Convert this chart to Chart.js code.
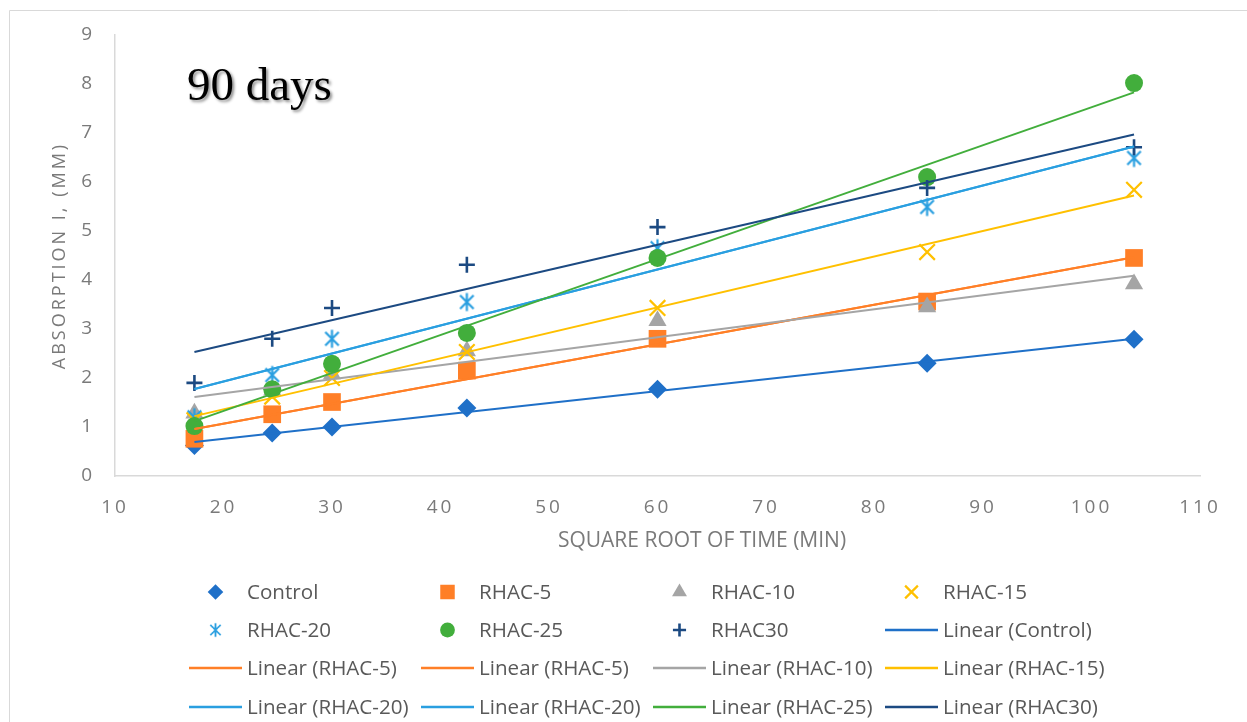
<!DOCTYPE html>
<html lang="en">
<head>
  <meta charset="UTF-8" />
  <title>90 days – absorption</title>
  <script src="https://cdn.jsdelivr.net/npm/chart.js@4"></script>
  <style>
    html, body { margin: 0; padding: 0; background: #fff; }
    #wrap { width: 1247px; height: 722px; position: relative; }
  </style>
</head>
<body>
  <div id="wrap"><canvas id="chart"></canvas></div>

  <script>
    // sqrt of time (min) – same x for every mix
    const xValues = [17.32, 24.49, 30, 42.43, 60, 84.85, 103.92];

    const control = [0.62, 0.88, 1.00, 1.39, 1.77, 2.30, 2.79];
    const rhac5   = [0.76, 1.26, 1.51, 2.15, 2.80, 3.56, 4.45];
    const rhac10  = [1.28, 1.75, 2.08, 2.55, 3.17, 3.45, 3.92];
    const rhac15  = [1.14, 1.62, 2.00, 2.53, 3.43, 4.57, 5.84];
    const rhac20  = [1.20, 2.06, 2.80, 3.55, 4.65, 5.49, 6.49];
    const rhac25  = [1.02, 1.77, 2.29, 2.92, 4.45, 6.10, 8.02];
    const rhac30  = [1.90, 2.80, 3.43, 4.31, 5.08, 5.88, 6.71];

    const seriesNames = ['Control', 'RHAC-5', 'RHAC-10', 'RHAC-15', 'RHAC-20', 'RHAC-25', 'RHAC30'];
    const seriesData  = [control, rhac5, rhac10, rhac15, rhac20, rhac25, rhac30];
    // trendlines as listed in the original legend (two are doubled)
    const trendOf = [0, 1, 1, 2, 3, 4, 4, 5, 6];

    const xTicks = [10, 20, 30, 40, 50, 60, 70, 80, 90, 100, 110];
    const yTicks = [0, 1, 2, 3, 4, 5, 6, 7, 8, 9];

    const colors = ['#1F70C8', '#FF7F27', '#A5A5A5', '#FFC000', '#2A9FE0', '#42AE3C', '#1C4A82'];

    // asterisk marker like the excel one (x + vertical bar)
    function asterisk(size, color){
      const c = document.createElement('canvas');
      c.width = size; c.height = size;
      const g = c.getContext('2d');
      const m = size/2, r = size/2 - 1.5, d = r*0.75;
      g.strokeStyle = color; g.lineWidth = 2.2;
      g.beginPath();
      g.moveTo(m, m-r); g.lineTo(m, m+r);
      g.moveTo(m-d, m-d); g.lineTo(m+d, m+d);
      g.moveTo(m+d, m-d); g.lineTo(m-d, m+d);
      g.stroke();
      return c;
    }

    const markers = [
      {style:'rectRot',  r:9.5,  w:0},
      {style:'rect',     r:12.5, w:0},
      {style:'triangle', r:10.5, w:0},
      {style:'crossRot', r:11,   w:2.2},
      {style:asterisk(21, colors[4]), r:10, w:2},
      {style:'circle',   r:9,    w:0},
      {style:'cross',    r:8,    w:2.6}
    ];

    function fit(ys){
      const n = xValues.length;
      const mx = xValues.reduce((a,b)=>a+b,0)/n;
      const my = ys.reduce((a,b)=>a+b,0)/n;
      let sxy = 0, sxx = 0;
      xValues.forEach((x,i)=>{ sxy += (x-mx)*(ys[i]-my); sxx += (x-mx)*(x-mx); });
      const b = sxy/sxx, a = my - b*mx;
      const x0 = xValues[0], x1 = xValues[n-1];
      return [{x:x0, y:a+b*x0}, {x:x1, y:a+b*x1}];
    }

    const scatterSets = seriesData.map((ys,i)=>({
      label: seriesNames[i],
      data: xValues.map((x,j)=>({x, y: ys[j]})),
      pointStyle: markers[i].style,
      pointRadius: markers[i].r,
      pointHoverRadius: markers[i].r,
      pointBackgroundColor: colors[i],
      pointBorderColor: colors[i],
      pointBorderWidth: markers[i].w,
      showLine: false,
      order: 100 - i
    }));

    const trendSets = trendOf.map((s,k)=>({
      label: 'Linear (' + seriesNames[s] + ')',
      type: 'line',
      data: fit(seriesData[s]),
      borderColor: colors[s],
      borderWidth: 2,
      pointRadius: 0,
      fill: false,
      order: 20 - k
    }));

    const tickColor = '#7a7a7a';
    const textColor = '#595959';

    // frame, "90 days", x title and the 4-column legend
    const extras = {
      id: 'extras',
      beforeDraw(chart){
        const ctx = chart.ctx;
        ctx.save();
        ctx.strokeStyle = '#d9d9d9'; ctx.lineWidth = 1;
        ctx.beginPath();
        ctx.moveTo(9.5, 740); ctx.lineTo(9.5, 10.5); ctx.lineTo(1260, 10.5);
        ctx.stroke();
        ctx.restore();
        ctx.letterSpacing = '3px';   // excel spreads the axis numbers
      },
      afterDraw(chart){
        const ctx = chart.ctx;
        ctx.letterSpacing = '0px';
        ctx.save();
        // panel label
        ctx.font = '47px "Liberation Serif"';
        ctx.fillStyle = '#000';
        ctx.textBaseline = 'alphabetic';
        ctx.shadowColor = 'rgba(0,0,0,0.45)';
        ctx.shadowOffsetX = 2; ctx.shadowOffsetY = 2; ctx.shadowBlur = 3;
        ctx.fillText('90 days', 187, 100);
        ctx.restore();

        ctx.save();
        ctx.font = '21px "Open Sans"';
        ctx.fillStyle = tickColor;
        ctx.textAlign = 'center'; ctx.textBaseline = 'middle';
        ctx.fillText('SQUARE ROOT OF TIME (MIN)', 702, 541);

        // legend
        const colX = [189, 421, 653, 885], rowY = [592, 630, 668, 707];
        const items = chart.data.datasets;
        ctx.font = '20.6px "Open Sans"';
        ctx.textAlign = 'left';
        items.forEach((ds,k)=>{
          const cx = colX[k % 4], cy = rowY[Math.floor(k/4)];
          if (ds.type === 'line'){
            ctx.strokeStyle = ds.borderColor; ctx.lineWidth = 2.5;
            ctx.beginPath(); ctx.moveTo(cx, cy); ctx.lineTo(cx+53, cy); ctx.stroke();
          } else {
            const i = seriesNames.indexOf(ds.label), m = markers[i];
            ctx.fillStyle = colors[i]; ctx.strokeStyle = colors[i];
            if (typeof m.style !== 'string'){
              ctx.drawImage(m.style, cx+26.5-8, cy-8, 16, 16);
            } else {
              ctx.lineWidth = m.w;
              Chart.helpers.drawPoint(ctx, {pointStyle:m.style, radius:m.r*0.82, rotation:0, borderWidth:m.w}, cx+26.5, cy);
            }
          }
          ctx.fillStyle = textColor;
          ctx.fillText(ds.label, cx+58, cy+1);
        });
        ctx.restore();
      }
    };

    new Chart(document.getElementById('chart'), {
      type: 'scatter',
      data: { datasets: [...scatterSets, ...trendSets] },
      options: {
        responsive: true,
        maintainAspectRatio: false,
        animation: false,
        layout: { padding: { left: 0, top: 35, right: 47, bottom: 166 } },
        plugins: { legend: { display: false }, tooltip: { enabled: false } },
        scales: {
          x: {
            type: 'linear', min: xTicks[0], max: xTicks[xTicks.length-1],
            afterFit: s => { s.height = 80; },
            afterBuildTicks: s => { s.ticks = xTicks.map(v=>({value:v})); },
            grid: { display: false, drawTicks: false },
            border: { display: true, color: '#d9d9d9', width: 1.5 },
            ticks: { color: tickColor, font: { family: 'Open Sans', size: 19 }, padding: 20, maxRotation: 0 }
          },
          y: {
            type: 'linear', min: yTicks[0], max: yTicks[yTicks.length-1],
            afterFit: s => { s.width = 115; },
            afterBuildTicks: s => { s.ticks = yTicks.map(v=>({value:v})); },
            grid: { display: false, drawTicks: false },
            border: { display: true, color: '#d9d9d9', width: 1.5 },
            ticks: { color: tickColor, font: { family: 'Open Sans', size: 19 }, padding: 20 },
            title: { display: true, text: 'ABSORPTION I, (MM)', color: tickColor,
                     font: { family: 'Open Sans', size: 18 }, padding: { top: 49, bottom: 0 } }
          }
        }
      },
      plugins: [extras]
    });
  </script>
</body>
</html>
